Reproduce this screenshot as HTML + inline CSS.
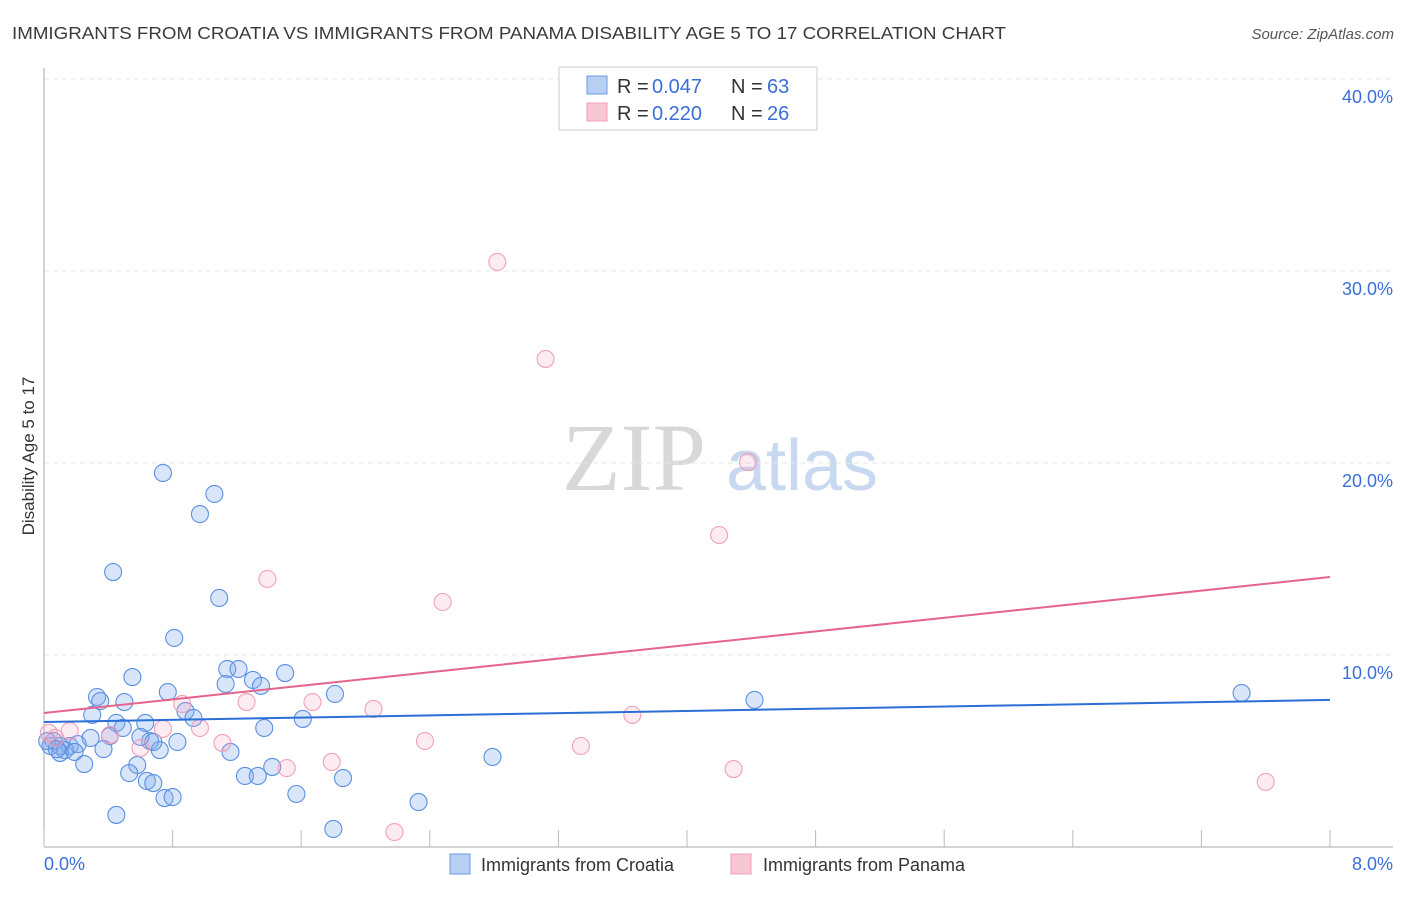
<!DOCTYPE html>
<html><head><meta charset="utf-8"><style>
body{margin:0;background:#fff;font-family:"Liberation Sans",sans-serif;}
</style></head><body>
<svg id="chart" width="1406" height="892" xmlns="http://www.w3.org/2000/svg" style="font-family:'Liberation Sans',sans-serif">
<text x="12" y="39" font-size="17.5" fill="#3a3a3a" textLength="994" lengthAdjust="spacingAndGlyphs">IMMIGRANTS FROM CROATIA VS IMMIGRANTS FROM PANAMA DISABILITY AGE 5 TO 17 CORRELATION CHART</text>
<text x="1394" y="39" font-size="15" fill="#555" text-anchor="end" font-style="italic">Source: ZipAtlas.com</text>
<g>
<text x="634" y="490" font-size="96" fill="#d8d8d8" font-family="Liberation Serif,serif" text-anchor="middle">ZIP</text>
<text x="802" y="490" font-size="72" fill="#c8d8f0" text-anchor="middle">atlas</text>
</g>
<g id="grid"></g>
<g id="axes"></g>
<g id="marks"></g>
<g>
<rect x="559" y="67" width="258" height="63" fill="#fff" stroke="#ccc"/>
<rect x="587" y="76" width="20" height="18" fill="#b7cff2" stroke="#6a9be0"/>
<rect x="587" y="103" width="20" height="18" fill="#f8c6d5" stroke="#f0a0b8"/>
<text x="617" y="93" font-size="20" fill="#333">R =</text>
<text x="652" y="93" font-size="20" fill="#3a6fd8">0.047</text>
<text x="731" y="93" font-size="20" fill="#333">N =</text>
<text x="767" y="93" font-size="20" fill="#3a6fd8">63</text>
<text x="617" y="120" font-size="20" fill="#333">R =</text>
<text x="652" y="120" font-size="20" fill="#3a6fd8">0.220</text>
<text x="731" y="120" font-size="20" fill="#333">N =</text>
<text x="767" y="120" font-size="20" fill="#3a6fd8">26</text>
</g>
<g>
<rect x="450" y="854" width="20" height="20" fill="#b7cff2" stroke="#6a9be0"/>
<text x="481" y="871" font-size="18" fill="#333">Immigrants from Croatia</text>
<rect x="731" y="854" width="20" height="20" fill="#f8c6d5" stroke="#f0a0b8"/>
<text x="763" y="871" font-size="18" fill="#333">Immigrants from Panama</text>
</g>
<text transform="translate(34,456) rotate(-90)" font-size="17" fill="#333" text-anchor="middle">Disability Age 5 to 17</text>
</svg>
<script>
const xTicks=[0,0.8,1.6,2.4,3.2,4.0,4.8,5.6,6.4,7.2,8.0];
const yTicks=[10,20,30,40];
const yTickLabels=["10.0%","20.0%","30.0%","40.0%"];
const xEndLabels=["0.0%","8.0%"];
const croatiaX=[0.74,1.06,0.97,0.43,1.09,0.81,1.14,1.21,0.55,1.30,1.50,0.33,0.77,1.13,1.35,1.81,0.50,0.35,0.88,0.93,0.30,1.61,0.45,0.63,0.49,1.37,0.06,0.41,0.66,0.83,0.72,1.16,0.37,0.04,0.10,0.16,0.21,0.13,0.10,0.19,0.25,0.58,0.53,0.64,0.68,1.25,1.33,1.42,1.86,0.75,0.80,1.57,2.33,0.45,1.80,2.79,4.42,7.45,0.60,0.02,0.08,0.29,0.68];
const croatiaY=[19.48,18.39,17.34,14.32,12.97,10.89,9.27,9.27,8.85,8.70,9.06,7.81,8.07,8.49,8.39,7.97,7.55,7.60,7.08,6.72,6.88,6.67,6.46,6.46,6.20,6.20,5.52,5.78,5.52,5.47,5.05,4.95,5.10,5.26,5.26,5.26,5.36,5.05,4.90,4.95,4.32,4.27,3.85,3.44,3.33,3.70,3.70,4.17,3.59,2.55,2.60,2.76,2.34,1.67,0.94,4.69,7.66,8.02,5.73,5.52,5.10,5.68,5.47];
const panamaX=[2.82,3.12,4.38,4.20,1.39,2.48,0.86,1.26,1.67,2.05,0.74,0.97,0.41,0.16,2.37,3.34,3.66,1.11,0.60,1.51,1.79,4.29,7.60,2.18,0.07,0.03];
const panamaY=[30.47,25.42,20.05,16.25,13.96,12.76,7.45,7.55,7.55,7.19,6.15,6.20,5.83,6.04,5.52,5.26,6.88,5.42,5.16,4.11,4.43,4.06,3.39,0.78,5.68,5.94];
const croatiaTrend=[6.51,7.66];
const panamaTrend=[6.98,14.06];
const NS="http://www.w3.org/2000/svg";
const X0=44,X1=1330,Y0=847,PY=19.2;
function sx(v){return X0+(X1-X0)*v/8;}
function sy(v){return Y0-v*PY;}
function mk(tag,attrs,parent){const e=document.createElementNS(NS,tag);for(const k in attrs)e.setAttribute(k,attrs[k]);document.getElementById(parent).appendChild(e);return e;}
yTicks.forEach((t,i)=>{
  const g=mk('line',{x1:X0,x2:1393,y1:sy(t),y2:sy(t),stroke:'#e6e6e6','stroke-dasharray':'5,4'},'grid');
  
  
  const l=mk('text',{x:1393,y:sy(t)+24,'font-size':18,fill:'#3a6fd8','text-anchor':'end'},'axes');
  l.textContent=yTickLabels[i];
  
  
});
const ax=mk('line',{x1:X0,x2:X0,y1:68,y2:Y0,stroke:'#aaa'},'axes');


const bx=mk('line',{x1:X0,x2:1393,y1:Y0,y2:Y0,stroke:'#aaa'},'axes');


xTicks.forEach(t=>{
  const k=mk('line',{x1:sx(t),x2:sx(t),y1:830,y2:Y0,stroke:'#bbb'},'axes');
  
  
});
const l0=mk('text',{x:44,y:870,'font-size':18,fill:'#3a6fd8'},'axes');l0.textContent=xEndLabels[0];


const l1=mk('text',{x:1393,y:870,'font-size':18,fill:'#3a6fd8','text-anchor':'end'},'axes');l1.textContent=xEndLabels[1];


croatiaX.forEach((v,i)=>{
  const c=mk('circle',{cx:sx(v),cy:sy(croatiaY[i]),r:8.5,fill:'rgba(130,172,238,0.3)',stroke:'#5b8fe0','stroke-width':1.1},'marks');
  
  
});
panamaX.forEach((v,i)=>{
  const c=mk('circle',{cx:sx(v),cy:sy(panamaY[i]),r:8.5,fill:'rgba(245,165,195,0.22)',stroke:'#f0a0b8','stroke-width':1.1},'marks');
  
  
});
const t1=mk('line',{x1:sx(0),x2:sx(8),y1:sy(croatiaTrend[0]),y2:sy(croatiaTrend[1]),stroke:'#2b6fd6','stroke-width':2},'marks');


const t2=mk('line',{x1:sx(0),x2:sx(8),y1:sy(panamaTrend[0]),y2:sy(panamaTrend[1]),stroke:'#e5648c','stroke-width':2},'marks');


</script>
</body></html>
